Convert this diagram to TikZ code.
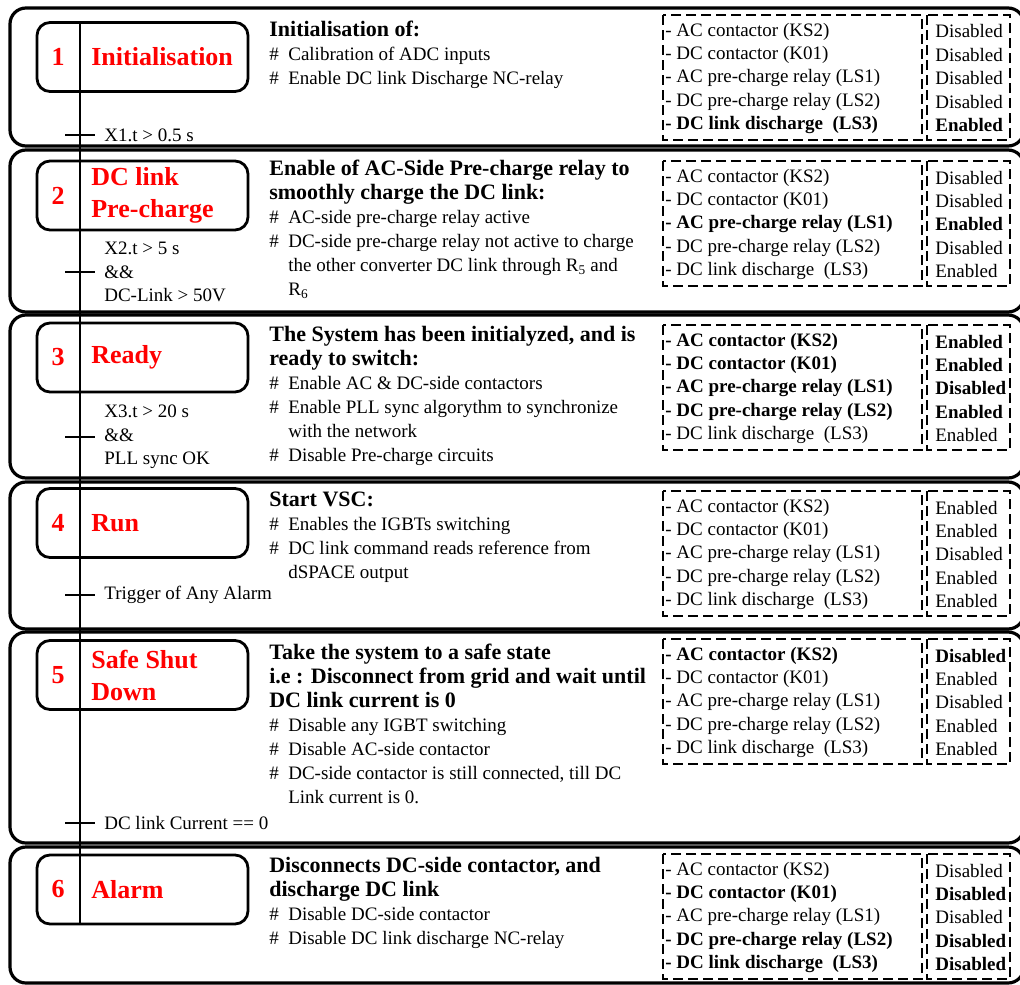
\documentclass[tikz,border=0pt]{standalone}
\usepackage{fontspec}
\setmainfont{Liberation Serif}
\usetikzlibrary{positioning}
\definecolor{stepred}{RGB}{255,0,0}

\tikzset{every picture/.style={line width=2.7pt},
  secbox/.style={line width=3.2pt, rounded corners=16pt},
  stepbox/.style={draw, line width=2.8pt, rounded corners=13pt, minimum width=211pt, minimum height=69pt, inner sep=0pt},
  steptitle/.style={text=stepred, font=\fontsize{26}{32}\selectfont\bfseries, align=left, inner sep=0pt},
  cond/.style={font=\fontsize{19}{23.5}\selectfont, align=left, inner sep=0pt, anchor=west},
  desc/.style={font=\fontsize{19}{24}\selectfont, align=left, inner sep=0pt, anchor=north west},
  tablebox/.style={line width=2.2pt, dash pattern=on 10pt off 5pt},
  relay/.style={font=\fontsize{19}{23}\selectfont, inner sep=0pt, anchor=west}}

\newcommand\hd[1]{{\fontsize{22}{24.5}\selectfont\bfseries #1}}
\newcommand\hitem{\makebox[19pt][l]{\#}}
\newcommand\hcont{\hspace*{19pt}}
\newcommand\relayname[1]{\ifcase#1\or AC contactor (KS2)\or DC contactor (K01)\or
  AC pre-charge relay (LS1)\or DC pre-charge relay (LS2)\or DC link discharge\hspace{0.5em}(LS3)\fi}
% #1 section, #2 y of first row, #3 state/bold per relay
\newcommand\relaytable[3]{%
  \draw[tablebox] (663,{#2-15}) rectangle (922,{#2+110});
  \draw[tablebox] (927,{#2-15}) rectangle (1010,{#2+110});
  \foreach \val/\isbold [count=\i] in {#3} {
    \node[relay] (r#1-\i) at (664,{#2+1.5+(\i-1)*23.4}) {\ifnum\isbold=1\bfseries\fi - \relayname{\i}};
    \node[relay] (v#1-\i) at (934,{#2+1.5+(\i-1)*23.4}) {\ifnum\isbold=1\bfseries\fi\val};
  }}

\begin{document}
\begin{tikzpicture}[x=1pt, y=-1pt]
  \useasboundingbox (0,0) rectangle (1020,985);

  % sections
  \draw[secbox] (10,8) rectangle (1024,146);
  \draw[secbox] (10,150) rectangle (1024,312);
  \draw[secbox] (10,315) rectangle (1024,478);
  \draw[secbox] (10,482) rectangle (1024,629);
  \draw[secbox] (10,632) rectangle (1024,843);
  \draw[secbox] (10,847) rectangle (1024,983);

  % steps
  \node[stepbox] (s1) at (142.5,57) {};
  \node[stepbox] (s2) at (142.5,195.5) {};
  \node[stepbox] (s3) at (142.5,357.5) {};
  \node[stepbox] (s4) at (142.5,523) {};
  \node[stepbox] (s5) at (142.5,675) {};
  \node[stepbox] (s6) at (142.5,889.5) {};
  \coordinate (bar) at (80,0);
  \draw (s1.north -| bar) -- (s6.south -| bar);

  \node[steptitle] (n1) at (58,57) {1};
  \node[steptitle, anchor=west] (t1) at (90,57) {Initialisation};
  \node[steptitle] (n2) at (58,195.5) {2};
  \node[steptitle, anchor=west] (t2) at (90,195.5) {DC link\\Pre-charge};
  \node[steptitle] (n3) at (58,357.5) {3};
  \node[steptitle, anchor=west] (t3) at (90,357.5) {Ready};
  \node[steptitle] (n4) at (58,523) {4};
  \node[steptitle, anchor=west] (t4) at (90,523) {Run};
  \node[steptitle] (n5) at (58,675) {5};
  \node[steptitle, anchor=west] (t5) at (90,675) {Safe Shut\\Down};
  \node[steptitle] (n6) at (58,889.5) {6};
  \node[steptitle, anchor=west] (t6) at (90,889.5) {Alarm};

  % transitions
  \node[cond] (c1) at (103,135) {X1.t > 0.5 s};
  \node[cond] (c2) at (103,272) {X2.t > 5 s\\\&\&\\DC-Link > 50V};
  \node[cond] (c3) at (103,437) {X3.t > 20 s\\\&\&\\PLL sync OK};
  \node[cond] (c4) at (103,595) {Trigger of Any Alarm};
  \node[cond] (c5) at (103,823) {DC link Current == 0};
  \foreach \c in {c1,c2,c3,c4,c5}
    \draw ([xshift=-38pt]\c.west) -- ([xshift=-8pt]\c.west);

  % actions
  \node[desc] (d1) at (268,20) {\hd{Initialisation of:}\\
    \hitem Calibration of ADC inputs\\
    \hitem Enable DC link Discharge NC-relay};
  \node[desc] (d2) at (268,159) {\hd{Enable of AC-Side Pre-charge relay to}\\
    \hd{smoothly charge the DC link:}\\
    \hitem AC-side pre-charge relay active\\
    \hitem DC-side pre-charge relay not active to charge\\
    \hcont the other converter DC link through R\textsubscript{5} and\\
    \hcont R\textsubscript{6}};
  \node[desc] (d3) at (268,325) {\hd{The System has been initialyzed, and is}\\
    \hd{ready to switch:}\\
    \hitem Enable AC \& DC-side contactors\\
    \hitem Enable PLL sync algorythm to synchronize\\
    \hcont with the network\\
    \hitem Disable Pre-charge circuits};
  \node[desc] (d4) at (268,491) {\hd{Start VSC:}\\
    \hitem Enables the IGBTs switching\\
    \hitem DC link command reads reference from\\
    \hcont dSPACE output};
  \node[desc] (d5) at (268,643) {\hd{Take the system to a safe state}\\
    \hd{i.e : Disconnect from grid and wait until}\\
    \hd{DC link current is 0}\\
    \hitem Disable any IGBT switching\\
    \hitem Disable AC-side contactor\\
    \hitem DC-side contactor is still connected, till DC\\
    \hcont Link current is 0.};
  \node[desc] (d6) at (268,856) {\hd{Disconnects DC-side contactor, and}\\
    \hd{discharge DC link}\\
    \hitem Disable DC-side contactor\\
    \hitem Disable DC link discharge NC-relay};

  % relay states
  \relaytable{1}{30}{Disabled/0, Disabled/0, Disabled/0, Disabled/0, Enabled/1}
  \relaytable{2}{176}{Disabled/0, Disabled/0, Enabled/1, Disabled/0, Enabled/0}
  \relaytable{3}{340}{Enabled/1, Enabled/1, Disabled/1, Enabled/1, Enabled/0}
  \relaytable{4}{506}{Enabled/0, Enabled/0, Disabled/0, Enabled/0, Enabled/0}
  \relaytable{5}{654}{Disabled/1, Enabled/0, Disabled/0, Enabled/0, Enabled/0}
  \relaytable{6}{869}{Disabled/0, Disabled/1, Disabled/0, Disabled/1, Disabled/1}
\end{tikzpicture}
\end{document}
